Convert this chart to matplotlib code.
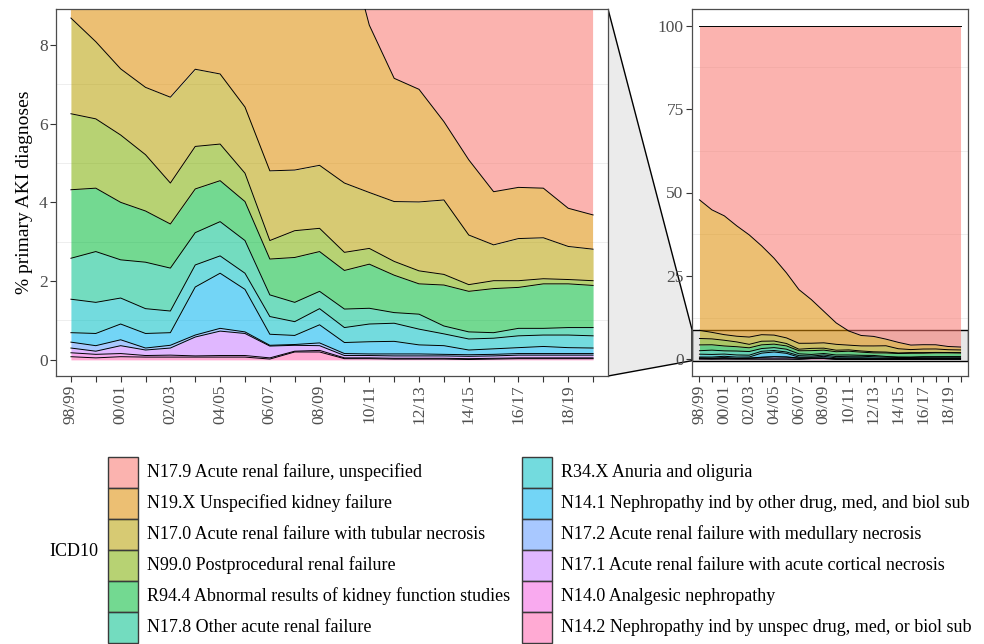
import matplotlib.pyplot as plt
import numpy as np
from matplotlib.patches import Polygon, Rectangle
from matplotlib.colors import to_rgba

plt.rcParams['font.family'] = ['Liberation Serif', 'DejaVu Serif']

# financial years 98/99 .. 19/20
years = ['98/99', '99/00', '00/01', '01/02', '02/03', '03/04', '04/05', '05/06',
         '06/07', '07/08', '08/09', '09/10', '10/11', '11/12', '12/13', '13/14',
         '14/15', '15/16', '16/17', '17/18', '18/19', '19/20']

# % of primary AKI diagnoses per ICD10 code
n17_9 = [52.2, 55.2, 57.0, 60.0, 62.7, 66.0, 69.7, 74.1, 79.1, 82.1, 85.6,
         89.1, 91.5, 92.85, 93.13, 93.95, 94.92, 95.73, 95.62, 95.64, 96.15, 96.32]
n19_x = [39.12, 36.72, 35.61, 33.08, 30.63, 26.62, 23.04, 19.48, 16.10, 13.08, 9.46,
         6.41, 4.25, 3.13, 2.86, 1.99, 1.91, 1.35, 1.30, 1.26, 0.97, 0.87]
n17_0 = [2.43, 1.96, 1.68, 1.71, 2.18, 1.96, 1.78, 1.68, 1.77, 1.54, 1.60,
         1.76, 1.42, 1.52, 1.75, 1.89, 1.26, 0.91, 1.07, 1.04, 0.84, 0.80]
n99_0 = [1.93, 1.76, 1.71, 1.43, 1.04, 1.08, 0.93, 0.72, 0.47, 0.68, 0.59,
         0.46, 0.40, 0.35, 0.33, 0.27, 0.17, 0.20, 0.17, 0.13, 0.11, 0.12]
r94_4 = [1.74, 1.61, 1.46, 1.30, 1.12, 1.11, 1.04, 0.99, 0.91, 1.14, 1.01,
         0.98, 1.12, 0.95, 0.77, 1.04, 1.03, 1.12, 1.04, 1.13, 1.11, 1.07]
n17_8 = [1.04, 1.29, 0.97, 1.18, 1.09, 0.82, 0.87, 0.83, 0.55, 0.49, 0.44,
         0.47, 0.40, 0.27, 0.38, 0.20, 0.18, 0.14, 0.19, 0.17, 0.19, 0.21]
r34_x = [0.85, 0.79, 0.66, 0.63, 0.55, 0.56, 0.44, 0.41, 0.45, 0.35, 0.41,
         0.38, 0.45, 0.46, 0.40, 0.30, 0.28, 0.27, 0.30, 0.29, 0.32, 0.31]
n14_1 = [0.24, 0.31, 0.40, 0.37, 0.32, 1.22, 1.40, 1.08, 0.28, 0.23, 0.46,
         0.28, 0.31, 0.32, 0.23, 0.22, 0.12, 0.14, 0.15, 0.18, 0.15, 0.14]
n17_2 = [0.15, 0.14, 0.15, 0.05, 0.07, 0.05, 0.07, 0.04, 0.02, 0.02, 0.07,
         0.05, 0.04, 0.05, 0.05, 0.04, 0.04, 0.04, 0.04, 0.04, 0.04, 0.04]
n17_1 = [0.12, 0.08, 0.20, 0.14, 0.18, 0.48, 0.62, 0.56, 0.30, 0.15, 0.12,
         0.06, 0.06, 0.06, 0.06, 0.06, 0.06, 0.06, 0.07, 0.07, 0.07, 0.07]
n14_0 = [0.10, 0.09, 0.08, 0.04, 0.05, 0.03, 0.04, 0.04, 0.03, 0.02, 0.04,
         0.02, 0.02, 0.02, 0.02, 0.02, 0.02, 0.02, 0.02, 0.02, 0.02, 0.02]
n14_2 = [0.08, 0.05, 0.08, 0.07, 0.07, 0.07, 0.07, 0.07, 0.02, 0.20, 0.20,
         0.03, 0.03, 0.02, 0.02, 0.02, 0.01, 0.02, 0.03, 0.03, 0.03, 0.03]

labels = ['N17.9 Acute renal failure, unspecified',
          'N19.X Unspecified kidney failure',
          'N17.0 Acute renal failure with tubular necrosis',
          'N99.0 Postprocedural renal failure',
          'R94.4 Abnormal results of kidney function studies',
          'N17.8 Other acute renal failure',
          'R34.X Anuria and oliguria',
          'N14.1 Nephropathy ind by other drug, med, and biol sub',
          'N17.2 Acute renal failure with medullary necrosis',
          'N17.1 Acute renal failure with acute cortical necrosis',
          'N14.0 Analgesic nephropathy',
          'N14.2 Nephropathy ind by unspec drug, med, or biol sub']
colors = ['#F8766D', '#DE8C00', '#B79F00', '#7CAE00', '#00BA38', '#00C08B',
          '#00BFC4', '#00B4F0', '#619CFF', '#C77CFF', '#F564E3', '#FF64B0']
series = [n17_9, n19_x, n17_0, n99_0, r94_4, n17_8,
          r34_x, n14_1, n17_2, n17_1, n14_0, n14_2]

ALPHA = 0.55
W, H = 984, 644
x = np.arange(len(years))

# stack from the bottom (last legend entry) upwards
stack = np.array(series[::-1])
tops = np.cumsum(stack, axis=0)
bottoms = tops - stack
cols_bottom_up = colors[::-1]

fig = plt.figure(figsize=(W / 100, H / 100), dpi=100)
ax1 = fig.add_axes([56 / W, 1 - 376 / H, 552 / W, 367 / H])
ax2 = fig.add_axes([692 / W, 1 - 376 / H, 276 / W, 367 / H])

zoom_lo, zoom_hi = -0.41, 8.91

for ax in (ax1, ax2):
    for k in range(len(stack)):
        ax.fill_between(x, bottoms[k], tops[k], color=cols_bottom_up[k],
                        alpha=ALPHA, linewidth=0, zorder=2)
        ax.plot(x, tops[k], color='black', lw=0.7, zorder=3)
    ax.set_xlim(-0.6, len(years) - 0.4)
    ax.set_xticks(x)
    ax.set_xticklabels([y if i % 2 == 0 else '' for i, y in enumerate(years)],
                       rotation=90, fontsize=12.5, color='#4D4D4D')
    ax.tick_params(length=4, color='#333333', width=0.8, labelsize=12.5,
                   labelcolor='#4D4D4D', pad=2)
    for s in ax.spines.values():
        s.set_color('#4D4D4D')
        s.set_linewidth(0.9)

ax1.set_ylim(zoom_lo, zoom_hi)
ax1.set_yticks([0, 2, 4, 6, 8])
for g in [1, 3, 5, 7]:
    ax1.axhline(g, color='#EBEBEB', lw=0.6, zorder=0.5)

ax2.set_ylim(-5, 105)
ax2.set_yticks([0, 25, 50, 75, 100])
for g in [12.5, 37.5, 62.5, 87.5]:
    ax2.axhline(g, color='#EBEBEB', lw=0.6, zorder=0.5)
# zoom indicator under the areas
ax2.add_patch(Rectangle((0, zoom_lo), 1, zoom_hi - zoom_lo,
                        transform=ax2.get_yaxis_transform(),
                        facecolor='#E6E6E6', edgecolor='black', lw=1, zorder=1.5))

fig.text(25 / W, 1 - 192.5 / H, '% primary AKI diagnoses', rotation=90,
         ha='center', va='center', fontsize=14)

# trapezoid linking the two panels
fig.canvas.draw()
inv = fig.transFigure.inverted()
p_top = inv.transform(ax1.transAxes.transform((1, 1)))
p_bot = inv.transform(ax1.transAxes.transform((1, 0)))
q_top = inv.transform(ax2.get_yaxis_transform().transform((0, zoom_hi)))
q_bot = inv.transform(ax2.get_yaxis_transform().transform((0, zoom_lo)))
fig.add_artist(Polygon([p_top, q_top, q_bot, p_bot], closed=True,
                       transform=fig.transFigure, facecolor='#EBEBEB',
                       edgecolor='black', lw=1, zorder=0))

# legend
fig.text(74 / W, 1 - 552 / H, 'ICD10', ha='center', va='center', fontsize=13)
key_w, key_h = 30, 31
for n, (lab, col) in enumerate(zip(labels, colors)):
    c, r = divmod(n, 6)
    kx = 108 if c == 0 else 522
    ky = 457 + r * key_h
    fig.add_artist(Rectangle((kx / W, 1 - (ky + key_h) / H), key_w / W, key_h / H,
                             transform=fig.transFigure, facecolor=to_rgba(col, ALPHA),
                             edgecolor='#3A3A3A', lw=1))
    fig.text((kx + 39) / W, 1 - (ky + key_h / 2) / H, lab, ha='left', va='center',
             fontsize=13)

fig.savefig('out.png', dpi=100)
